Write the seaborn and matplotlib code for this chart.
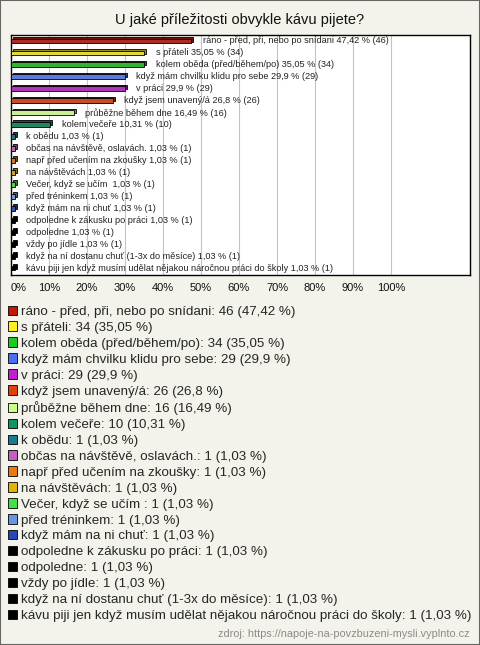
import matplotlib
matplotlib.use("Agg")
import matplotlib.pyplot as plt
import matplotlib.colors as mcolors
from matplotlib.patches import Patch, Rectangle
import numpy as np
import pandas as pd
import seaborn as sns

# data
title = "U jaké příležitosti obvykle kávu pijete?"
categories = [
    "ráno - před, při, nebo po snídani",
    "s přáteli",
    "kolem oběda (před/během/po)",
    "když mám chvilku klidu pro sebe",
    "v práci",
    "když jsem unavený/á",
    "průběžne během dne",
    "kolem večeře",
    "k obědu",
    "občas na návštěvě, oslavách.",
    "např před učením na zkoušky",
    "na návštěvách",
    "Večer, když se učím ",
    "před tréninkem",
    "když mám na ni chuť",
    "odpoledne k zákusku po práci",
    "odpoledne",
    "vždy po jídle",
    "když na ní dostanu chuť (1-3x do měsíce)",
    "kávu piji jen když musím udělat nějakou náročnou práci do školy",
]
counts = [46, 34, 34, 29, 29, 26, 16, 10, 1, 1, 1, 1, 1, 1, 1, 1, 1, 1, 1, 1]
percents = [47.42, 35.05, 35.05, 29.9, 29.9, 26.8, 16.49, 10.31,
            1.03, 1.03, 1.03, 1.03, 1.03, 1.03, 1.03, 1.03, 1.03, 1.03, 1.03, 1.03]
colors = ["#c0180c", "#ffee22", "#1ec81e", "#4a6ef0", "#c01ed0", "#e0400c",
          "#ccff88", "#149464", "#1a7a90", "#c060c0", "#e87a10", "#e0b410",
          "#44e044", "#6894e0", "#2848b4", "#000000", "#000000", "#000000",
          "#000000", "#000000"]
x_ticks = list(range(0, 101, 10))
source = "zdroj: https://napoje-na-povzbuzeni-mysli.vyplnto.cz"

sns.set_theme(style="white")
plt.rcParams["font.family"] = ["Liberation Sans", "DejaVu Sans"]

df = pd.DataFrame({"kategorie": categories, "pocet": counts, "procenta": percents})
df["pct_txt"] = [f"{p:g}".replace(".", ",") for p in percents]

fig = plt.figure(figsize=(4.8, 6.45), dpi=100, facecolor="#f3f3ec")
ax = fig.add_axes([11 / 480, 1 - 275 / 645, 459 / 480, 240 / 645])
ax.set_facecolor("white")

# back face of the 3D bars
dark = [mcolors.to_hex(np.array(mcolors.to_rgb(c)) * 0.6) for c in colors]
ax.barh(np.arange(len(df)) - 0.15, df["procenta"], left=0.5, height=0.4,
        color=dark, edgecolor="black", linewidth=0.6, zorder=2)

sns.barplot(data=df, y="kategorie", x="procenta", hue="kategorie",
            palette=colors, orient="h", width=0.4, edgecolor="black",
            linewidth=0.6, legend=False, ax=ax, zorder=3)

for i, row in df.iterrows():
    ax.text(row["procenta"] + 3.0, i,
            f"{row['kategorie']} {row['pct_txt']} % ({row['pocet']})",
            va="center", ha="left", fontsize=6.6, color="#222222", zorder=4)

ax.set_xlim(0, 120.8)
ax.set_ylim(len(df) - 0.42, -0.5)
ax.set_xticks(x_ticks)
ax.set_xticklabels([f"{t}%" for t in x_ticks])
ax.get_xticklabels()[0].set_horizontalalignment("left")
ax.set_yticks([])
ax.set_xlabel("")
ax.set_ylabel("")
ax.tick_params(axis="x", length=0, pad=5.5, labelsize=8, colors="#111111")
ax.grid(axis="x", color="#c4c4c4", linewidth=0.8)
ax.set_axisbelow(True)
for s in ax.spines.values():
    s.set_color("black")
    s.set_linewidth(1)

fig.text(0.5, 1 - 20 / 645, title, ha="center", va="center", fontsize=10.5,
         color="#111111")

handles = [Patch(facecolor=c, edgecolor="black", linewidth=0.6) for c in colors]
labels = [f"{c}: {n} ({p} %)" for c, n, p in zip(df["kategorie"], df["pocet"], df["pct_txt"])]
fig.legend(handles, labels, loc="upper left", bbox_to_anchor=(8 / 480, 1 - 305.5 / 645),
           frameon=False, fontsize=9.6, handlelength=0.7, handleheight=0.7,
           handletextpad=0.25, labelspacing=0.27, borderpad=0, borderaxespad=0)

fig.text(470 / 480, 1 - 634 / 645, source, ha="right", va="center",
         fontsize=7.8, color="#8a8a8a")

fig.patches.append(Rectangle((0, 0), 1, 1, transform=fig.transFigure,
                             fill=False, edgecolor="#666666", linewidth=1.5))

fig.savefig("out.png", dpi=100, facecolor=fig.get_facecolor())
